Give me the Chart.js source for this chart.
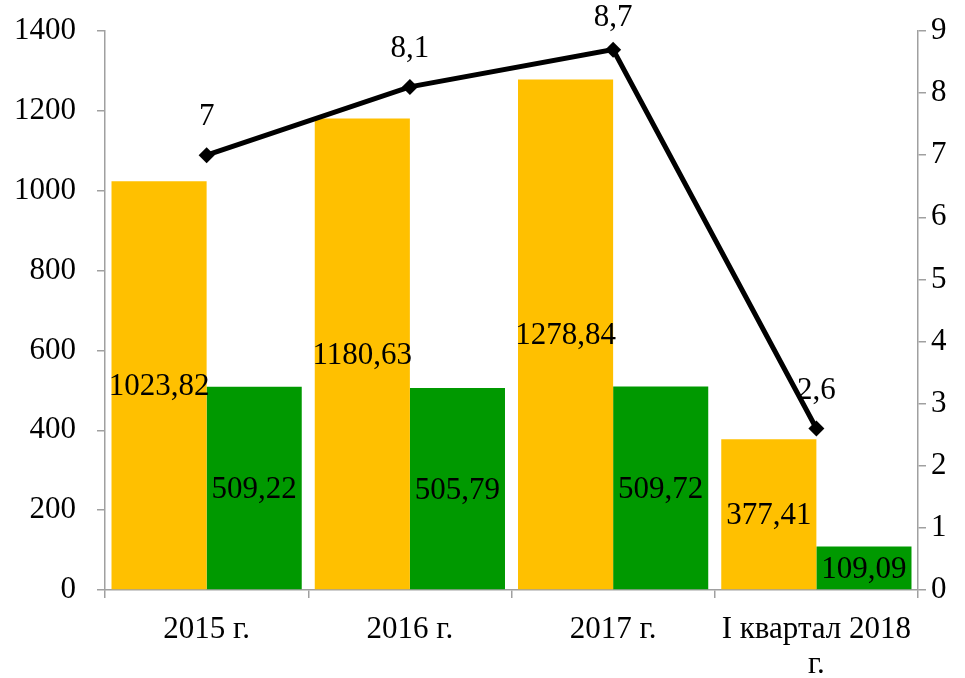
<!DOCTYPE html>
<html>
<head>
<meta charset="utf-8">
<script src="https://cdn.jsdelivr.net/npm/chart.js@4/dist/chart.umd.min.js"></script>
<style>
  html, body { margin: 0; padding: 0; background: #fff; }
  #wrap { width: 965px; height: 678px; }
</style>
</head>
<body>
<div id="wrap"><canvas id="grafico" width="965" height="678"></canvas></div>
<script>
const categorias = ['2015 г.', '2016 г.', '2017 г.', ['I квартал 2018', 'г.']];
const serieLaranja = [1023.82, 1180.63, 1278.84, 377.41];
const serieVerde = [509.22, 505.79, 509.72, 109.09];
const serieLinha = [7, 8.1, 8.7, 2.6];
const ticksEsquerda = [0, 200, 400, 600, 800, 1000, 1200, 1400];
const ticksDireita = [0, 1, 2, 3, 4, 5, 6, 7, 8, 9];

const fonte = { family: "'Liberation Serif', 'Times New Roman', serif", size: 31, lineHeight: 1.13 };
const corEixo = '#a0a0a0';

// escreve os valores sobre as barras e a linha
const rotulos = {
  id: 'rotulos',
  afterDatasetsDraw(chart) {
    const ctx = chart.ctx;
    ctx.save();
    ctx.font = `${fonte.size}px ${fonte.family}`;
    ctx.fillStyle = '#000';
    ctx.textAlign = 'center';
    ctx.textBaseline = 'middle';
    chart.data.datasets.forEach((ds, i) => {
      const meta = chart.getDatasetMeta(i);
      meta.data.forEach((el, j) => {
        const v = ds.data[j];
        if (ds.type === 'line') {
          const txt = String(v).replace('.', ',');
          // não deixa o rótulo sair do topo
          ctx.fillText(txt, el.x, Math.max(el.y - 38, 18));
        } else {
          const txt = v.toFixed(2).replace('.', ',');
          ctx.fillText(txt, el.x, (el.y + el.base) / 2 + 2);
        }
      });
    });
    ctx.restore();
  }
};

new Chart(document.getElementById('grafico'), {
  data: {
    labels: categorias,
    datasets: [
      {
        type: 'line',
        data: serieLinha,
        yAxisID: 'y1',
        borderColor: '#000',
        backgroundColor: '#000',
        borderWidth: 5,
        pointStyle: 'rectRot',
        pointRadius: 8,
        pointBorderWidth: 0,
        tension: 0,
        order: 0
      },
      {
        type: 'bar',
        data: serieLaranja,
        yAxisID: 'y',
        backgroundColor: '#FFC000',
        barPercentage: 1,
        categoryPercentage: 0.936,
        order: 1
      },
      {
        type: 'bar',
        data: serieVerde,
        yAxisID: 'y',
        backgroundColor: '#009900',
        barPercentage: 1,
        categoryPercentage: 0.936,
        order: 1
      }
    ]
  },
  options: {
    responsive: false,
    animation: false,
    layout: { padding: { top: 31, left: 0, right: 0, bottom: 0 } },
    plugins: {
      legend: { display: false },
      tooltip: { enabled: false }
    },
    scales: {
      x: {
        offset: true,
        grid: { offset: true, drawOnChartArea: false, color: corEixo, tickLength: 8, lineWidth: 1.5 },
        border: { color: corEixo, width: 1.5 },
        ticks: { font: fonte, color: '#000', padding: 14, maxRotation: 0, autoSkip: false },
        afterFit(scale) { scale.height = 88; scale.paddingLeft = 0; scale.paddingRight = 0; }
      },
      y: {
        position: 'left',
        min: 0,
        max: 1400,
        afterBuildTicks(scale) { scale.ticks = ticksEsquerda.map(v => ({ value: v })); },
        grid: { drawOnChartArea: false, color: corEixo, tickLength: 8, lineWidth: 1.5 },
        border: { color: corEixo, width: 1.5 },
        ticks: { font: fonte, color: '#000', padding: 21, callback: v => String(v) },
        afterFit(scale) { scale.width = 105; scale.paddingTop = 0; scale.paddingBottom = 0; }
      },
      y1: {
        position: 'right',
        min: 0,
        max: 9,
        afterBuildTicks(scale) { scale.ticks = ticksDireita.map(v => ({ value: v })); },
        grid: { drawOnChartArea: false, color: corEixo, tickLength: 8, lineWidth: 1.5 },
        border: { color: corEixo, width: 1.5 },
        ticks: { font: fonte, color: '#000', padding: 5, callback: v => String(v) },
        afterFit(scale) { scale.width = 47; scale.paddingTop = 0; scale.paddingBottom = 0; }
      }
    }
  },
  plugins: [rotulos]
});
</script>
</body>
</html>
